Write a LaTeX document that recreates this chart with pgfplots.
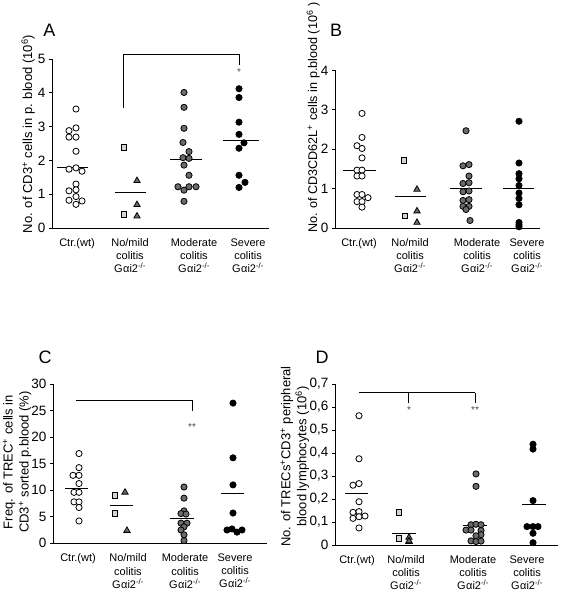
\documentclass[border=0pt]{standalone}
\usepackage{pgfplots}
\pgfplotsset{compat=1.18}
\usepackage{fontspec}
\setmainfont{Liberation Sans}
\definecolor{lgray}{HTML}{D4D4D4}
\definecolor{dgray}{HTML}{6B6B6B}
\definecolor{stargray}{HTML}{4A4A4A}
\pgfplotsset{
  panel/.style={
    scale only axis, axis lines*=left,
    axis line style={-, line width=0.8pt},
    x axis line style={-}, y axis line style={-},
    tick align=outside, major tick length=3pt,
    tick style={line width=0.8pt, black},
    major x tick style={draw=none},
    clip=false, enlargelimits=false,
    /pgf/number format/assume math mode=true,
    yticklabel style={font=\fontsize{13.5}{15}\selectfont},
    xticklabel style={font=\fontsize{11}{13.2}\selectfont, align=center, anchor=north, yshift=-4pt},
    ylabel style={font=\fontsize{13}{16}\selectfont, align=center, anchor=center},
  },
  ctr/.style={only marks, mark=*, mark size=3.1pt, mark options={fill=white, draw=black, line width=0.8pt}},
  sq/.style={only marks, mark=square*, mark size=2.8pt, mark options={fill=lgray, draw=black, line width=0.8pt}},
  tri/.style={only marks, mark=triangle*, mark size=3.6pt, mark options={fill=dgray, draw=black, line width=0.8pt}},
  mod/.style={only marks, mark=*, mark size=3.1pt, mark options={fill=dgray, draw=black, line width=0.8pt}},
  sev/.style={only marks, mark=*, mark size=3.1pt, mark options={fill=black, draw=black, line width=0.8pt}},
  mean/.style={black, line width=0.9pt, no marks},
}
\newcommand{\gko}{G\kern0.5pt αi2\textsuperscript{-/-}}
\begin{document}
\begin{tikzpicture}[x=1pt,y=1pt]
\path[use as bounding box] (0,0) rectangle (563,591);

% ---------------- Panel A ----------------
\begin{axis}[panel, at={(52pt,363pt)}, anchor=south west,
  width=217pt, height=169pt, xmin=52, xmax=269, ymin=0, ymax=5,
  ytick={0,1,2,3,4,5},
  xtick={77,130,194,248},
  xticklabels={Ctr.(wt), {No/mild\\colitis\\\gko}, {Moderate\\colitis\\\gko}, {Severe\\colitis\\\gko}},
  ylabel={No. of CD3\textsuperscript{+} cells in p. blood (10\textsuperscript{6})},
  ylabel style={at={(axis description cs:-0.11,0.556)}}]
\addplot[ctr] coordinates {(76,3.52) (69,2.88) (76,2.96) (69,2.69) (76,2.69) (76,2.27)
  (69,1.74) (76,1.78) (82,1.68) (76,1.30) (69,1.10) (76,1.13) (76,0.93) (69,0.82) (82,0.80) (76,0.70)};
\addplot[sq] coordinates {(124,2.38) (124,0.41)};
\addplot[tri] coordinates {(137,1.40) (137,0.69) (137,0.35)};
\addplot[mod] coordinates {(184,4.01) (184,3.57) (184,2.95) (183,2.53) (189,2.26) (183,2.08) (189,2.06)
  (184,1.86) (189,1.56) (178,1.22) (184,1.12) (189,1.22) (196,1.22) (184,0.79)};
\addplot[sev] coordinates {(239,4.12) (239,3.86) (239,3.13) (239,2.77) (244,2.52) (239,2.36)
  (239,1.56) (245,1.35) (239,1.20)};
\addplot[mean] coordinates {(57,1.78) (88,1.78)};
\addplot[mean] coordinates {(115,1.04) (146,1.04)};
\addplot[mean] coordinates {(170,2.03) (202,2.03)};
\addplot[mean] coordinates {(223,2.59) (259,2.59)};
\draw[line width=0.8pt] (axis cs:123,3.55) -- (axis cs:123,5.15) -- (axis cs:239,5.15) -- (axis cs:239,4.83);
\node[text=stargray, font=\fontsize{10}{12}\selectfont] at (axis cs:239,4.62) {*};
\end{axis}

% ---------------- Panel B ----------------
\begin{axis}[panel, at={(335pt,363pt)}, anchor=south west,
  width=205pt, height=157.5pt, xmin=335, xmax=540, ymin=0, ymax=4,
  ytick={0,1,2,3,4},
  xtick={359,410,477,527},
  xticklabels={Ctr.(wt), {No/mild\\colitis\\\gko}, {Moderate\\colitis\\\gko}, {Severe\\colitis\\\gko}},
  ylabel={No. of CD3CD62L\textsuperscript{+} cells in p.blood (10\textsuperscript{6} )},
  ylabel style={at={(axis description cs:-0.106,0.70)}, font=\fontsize{12.6}{15}\selectfont}]
\addplot[ctr] coordinates {(362,2.91) (362,2.30) (357,2.09) (362,2.02) (362,1.78) (357,1.47) (362,1.47)
  (357,1.32) (362,1.32) (357,0.85) (362,0.85) (368,0.77) (357,0.67) (362,0.67) (362,0.53)};
\addplot[sq] coordinates {(404,1.72) (405,0.31)};
\addplot[tri] coordinates {(417,0.98) (417,0.43) (417,0.14)};
\addplot[mod] coordinates {(466,2.47) (463,1.58) (469,1.61) (469,1.32) (463,1.13) (469,1.15) (463,0.92)
  (469,0.94) (463,0.70) (469,0.72) (463,0.55) (469,0.55) (466,0.47) (470,0.19)};
\addplot[sev] coordinates {(519,2.71) (519,1.65) (519,1.38) (519,1.25) (519,1.08) (519,0.89)
  (519,0.75) (519,0.59) (519,0.14) (519,0.08) (519,0.03)};
\addplot[mean] coordinates {(343,1.45) (376,1.45)};
\addplot[mean] coordinates {(395,0.79) (426,0.79)};
\addplot[mean] coordinates {(450,1.01) (482,1.01)};
\addplot[mean] coordinates {(503,1.00) (534,1.00)};
\end{axis}

% ---------------- Panel C ----------------
\begin{axis}[panel, at={(53pt,47.7pt)}, anchor=south west,
  width=214pt, height=159.3pt, xmin=53, xmax=267, ymin=0, ymax=30,
  ytick={0,5,...,30},
  xtick={78,128,185,235},
  xticklabels={Ctr.(wt), {No/mild\\colitis\\\gko}, {Moderate\\colitis\\\gko}, {Severe\\colitis\\\gko}},
  ylabel={Freq. of TREC\textsuperscript{+} cells in\\CD3\textsuperscript{+} sorted p.blood (\%)},
  ylabel style={at={(axis description cs:-0.168,0.51)}}]
\addplot[ctr] coordinates {(79,16.9) (79,14.25) (73,12.8) (79,12.8) (79,11.25) (74,9.6) (79,9.6)
  (74,7.8) (79,7.8) (79,6.75) (79,4.2)};
\addplot[sq] coordinates {(115,9.0) (115,5.6)};
\addplot[tri] coordinates {(125,9.6) (127,2.4)};
\addplot[mod] coordinates {(184,10.6) (184,8.5) (184,6.1) (181,5.6) (186,5.5) (181,3.8) (187,3.8)
  (184,3.1) (181,2.5) (184,1.6) (184,0.5)};
\addplot[sev] coordinates {(233,26.4) (233,16.1) (233,11.0) (233,5.7) (227,2.5) (232,2.7) (237,2.1) (242,2.5)};
\addplot[mean] coordinates {(65,10.3) (88,10.3)};
\addplot[mean] coordinates {(110,7.06) (133,7.06)};
\addplot[mean] coordinates {(170,4.6) (194,4.6)};
\addplot[mean] coordinates {(221,9.3) (244,9.3)};
\draw[line width=0.8pt] (axis cs:76,27.0) -- (axis cs:192,27.0) -- (axis cs:192,24.9);
\node[text=stargray, font=\fontsize{10}{12}\selectfont] at (axis cs:192,21.8) {**};
\end{axis}

% ---------------- Panel D ----------------
\begin{axis}[panel, at={(335pt,46pt)}, anchor=south west,
  width=223pt, height=161pt, xmin=335, xmax=558, ymin=0, ymax=0.7,
  ytick={0,0.1,...,0.7},
  yticklabel style={/pgf/number format/.cd, use comma, fixed, precision=1},
  xtick={357,406,473,527},
  xticklabels={Ctr.(wt), {No/mild\\colitis\\\gko}, {Moderate\\colitis\\\gko}, {Severe\\colitis\\\gko}},
  ylabel={No. of TRECs\textsuperscript{+}CD3\textsuperscript{+} peripheral\\blood lymphocytes (10\textsuperscript{6})},
  ylabel style={at={(axis description cs:-0.18,0.55)}}]
\addplot[ctr] coordinates {(359,0.562) (359,0.375) (353,0.26) (359,0.267) (359,0.188) (353,0.142)
  (359,0.145) (353,0.116) (359,0.123) (365,0.126) (359,0.074)};
\addplot[sq] coordinates {(399,0.142) (399,0.029)};
\addplot[tri] coordinates {(409,0.033) (409,0.015) (409,0.017)};
\addplot[mod] coordinates {(476,0.309) (476,0.255) (471,0.088) (476,0.090) (481,0.088) (466,0.065)
  (471,0.065) (481,0.063) (481,0.045) (476,0.040) (471,0.018) (476,0.015) (481,0.017)};
\addplot[sev] coordinates {(533,0.438) (533,0.417) (533,0.193) (527,0.08) (533,0.08) (538,0.08)
  (533,0.051) (533,0.01)};
\addplot[mean] coordinates {(345,0.226) (368,0.226)};
\addplot[mean] coordinates {(392,0.049) (416,0.049)};
\addplot[mean] coordinates {(463,0.087) (487,0.087)};
\addplot[mean] coordinates {(522,0.178) (546,0.178)};
\draw[line width=0.8pt] (axis cs:359,0.662) -- (axis cs:475,0.662);
\draw[line width=0.8pt] (axis cs:408,0.662) -- (axis cs:408,0.616);
\draw[line width=0.8pt] (axis cs:475,0.662) -- (axis cs:475,0.616);
\node[text=stargray, font=\fontsize{10}{12}\selectfont] at (axis cs:409,0.585) {*};
\node[text=stargray, font=\fontsize{10}{12}\selectfont] at (axis cs:475,0.585) {**};
\end{axis}

% panel letters
\node[font=\fontsize{18}{20}\selectfont] at (49.5,561) {A};
\node[font=\fontsize{18}{20}\selectfont] at (336,561) {B};
\node[font=\fontsize{18}{20}\selectfont] at (45,234) {C};
\node[font=\fontsize{18}{20}\selectfont] at (322,234) {D};
\end{tikzpicture}
\end{document}
